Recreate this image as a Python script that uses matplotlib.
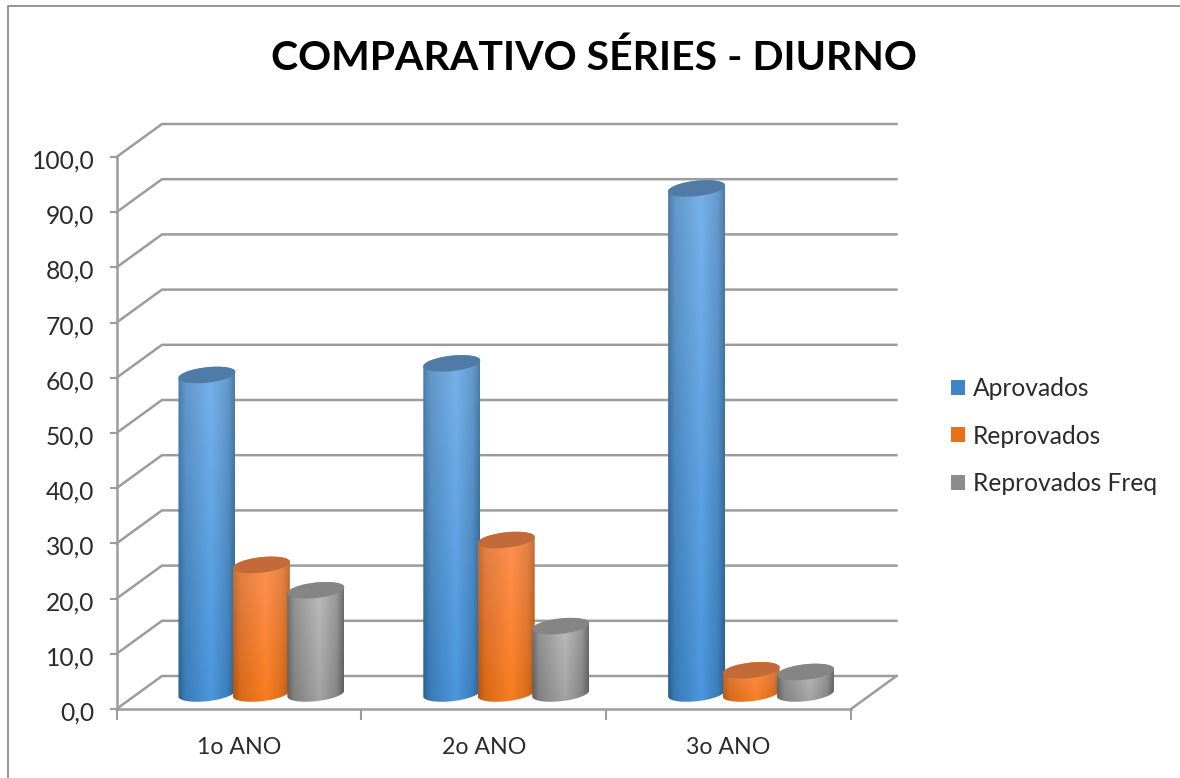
import numpy as np
import matplotlib
matplotlib.use('Agg')
import matplotlib.pyplot as plt
from matplotlib.patches import Patch, PathPatch
from matplotlib.lines import Line2D
from matplotlib.path import Path
from matplotlib.transforms import ScaledTranslation

plt.rcParams['font.family'] = ['Lato', 'DejaVu Sans']

# data
categories = ['1o ANO', '2o ANO', '3o ANO']
aprovados = [57.7, 59.8, 91.5]
reprovados = [23.3, 27.8, 4.2]
reprovados_freq = [18.7, 12.2, 3.9]
series_names = ['Aprovados', 'Reprovados', 'Reprovados Freq']
y_ticks = [0, 10, 20, 30, 40, 50, 60, 70, 80, 90, 100]
y_labels = ['0,0', '10,0', '20,0', '30,0', '40,0', '50,0', '60,0', '70,0', '80,0', '90,0', '100,0']

W, H = 1180, 778
fig = plt.figure(figsize=(W / 100, H / 100), dpi=100)

# outer frame, only left and top are in the picture
fig.add_artist(Line2D([8 / W, 8 / W, 1], [0, 1 - 6 / H, 1 - 6 / H], color='#8c8c8c', lw=1.3))

# axes = front plane of the fake 3d box
ax = fig.add_axes([116.5 / W, 1 - 709 / H, (851 - 116.5) / W, (709 - 157) / H])
ax.set_xlim(0, 3)
ax.set_ylim(0, 100)

grid_c = '#9c9c9c'
dx = 45.5 / 245  # box depth in data units
dy = 33 / 5.52

for v in y_ticks:
    ax.plot([0, dx, 3 + dx], [v, v + dy, v + dy], color=grid_c, lw=1.8, clip_on=False, zorder=1,
            solid_joinstyle='miter')
ax.plot([3, 3 + dx], [0, dy], color=grid_c, lw=1.8, clip_on=False, zorder=1)

for name in ['top', 'right']:
    ax.spines[name].set_visible(False)
for name in ['left', 'bottom']:
    ax.spines[name].set_color(grid_c)
    ax.spines[name].set_linewidth(1.8)

ax.set_yticks(y_ticks)
ax.set_yticklabels(y_labels)
ax.set_xticks([0, 1, 2, 3])
ax.set_xticklabels([])
ax.set_xticks([0.5, 1.5, 2.5], minor=True)
ax.set_xticklabels(categories, minor=True)
ax.tick_params(axis='y', length=5, width=1.5, color=grid_c, labelsize=17.7, labelcolor='#2b2b2b', pad=11)
ax.tick_params(axis='x', which='major', length=8, width=1.5, color=grid_c)
ax.tick_params(axis='x', which='minor', length=0, labelsize=16.7, labelcolor='#2b2b2b', pad=20)

# y labels sit a little under their ticks
down = ScaledTranslation(0, -2 / 100, fig.dpi_scale_trans)
for lab in ax.get_yticklabels():
    lab.set_transform(lab.get_transform() + down)

# shades: edge dark, centre light, at the bottom and at the top of a cylinder
shades = [
    {'edge_b': '#28608f', 'mid_b': '#4a96de', 'edge_t': '#4d7ea8', 'mid_t': '#79b2ea', 'cap': '#4f7ba6', 'key_t': '#62a4e2', 'key_b': '#3f86c8'},
    {'edge_b': '#b4540e', 'mid_b': '#f97c1e', 'edge_t': '#c4703a', 'mid_t': '#ff9255', 'cap': '#c26a38', 'key_t': '#ff8f4e', 'key_b': '#ea6f16'},
    {'edge_b': '#5e5e5e', 'mid_b': '#a2a2a2', 'edge_t': '#6e6e6e', 'mid_t': '#bdbdbd', 'cap': '#858585', 'key_t': '#b4b4b4', 'key_b': '#8c8c8c'},
]


def rgb(c):
    return np.array(matplotlib.colors.to_rgb(c))


def cylinder(cx, val, w, shade, z):
    base = dy * 0.47
    top = base + val
    a = w / 2
    b = 1.4
    s = 0.54
    t1 = np.linspace(np.pi, 2 * np.pi, 60)
    t2 = np.linspace(0, np.pi, 60)
    xs = np.r_[cx + a * np.cos(t1), cx + a * np.cos(t2)]
    ys = np.r_[base + s * np.cos(t1) + b * np.sin(t1), top + s * np.cos(t2) + b * np.sin(t2)]
    clip = Path(np.c_[xs, ys])

    # horizontal profile, light a bit right of the middle
    u = np.linspace(0, 1, 80)
    prof = np.interp(u, [0, 0.12, 0.58, 0.88, 1], [0, 0.5, 1, 0.55, 0])
    v = np.linspace(1, 0, 40)
    img = np.zeros((40, 80, 3))
    for i, vv in enumerate(v):
        edge = rgb(shade['edge_b']) * (1 - vv) + rgb(shade['edge_t']) * vv
        mid = rgb(shade['mid_b']) * (1 - vv) + rgb(shade['mid_t']) * vv
        img[i] = edge[None, :] * (1 - prof[:, None]) + mid[None, :] * prof[:, None]
    im = ax.imshow(img, extent=[cx - a, cx + a, base - 2, top + 2], aspect='auto', zorder=z,
                   interpolation='bilinear')
    im.set_clip_path(PathPatch(clip, transform=ax.transData))

    t = np.linspace(0, 2 * np.pi, 120)
    ax.fill(cx + a * np.cos(t), top + s * np.cos(t) + b * np.sin(t), color=shade['cap'], lw=0, zorder=z + 0.1)


bar_w = 57 / 245
first = 90.5 / 245
step = 54.5 / 245
series = [aprovados, reprovados, reprovados_freq]
for g in range(len(categories)):
    for k, vals in enumerate(series):
        cylinder(g + first + k * step, vals[g], bar_w, shades[k], 3 + g + k * 0.3)

ax.set_xlim(0, 3)
ax.set_ylim(0, 100)

handles = [Patch(facecolor=shades[k]['key_b'], edgecolor='none', label=series_names[k]) for k in range(3)]
leg = fig.legend(handles=handles, loc='center left', bbox_to_anchor=(929 / W, 1 - 436 / H), frameon=False,
                 fontsize=17.7, labelcolor='#2b2b2b', handlelength=0.57, handleheight=0.57, handletextpad=0.3,
                 labelspacing=1.0)

# legend keys have a soft vertical gradient, laid over the patches
fig.canvas.draw()
for k, p in enumerate(leg.get_patches()):
    box = p.get_window_extent()
    n = int(round(box.height))
    m = int(round(box.width))
    grad = np.linspace(0, 1, n)[:, None, None]
    key_img = (rgb(shades[k]['key_t']) * (1 - grad) + rgb(shades[k]['key_b']) * grad) * np.ones((n, m, 3))
    fig.figimage(key_img, xo=int(round(box.x0)), yo=int(round(box.y0)), origin='upper', zorder=5)

fig.text(593.5 / W, 1 - 58 / H, 'COMPARATIVO SÉRIES - DIURNO', ha='center', va='center',
         fontsize=29.5, fontweight='bold', color='black')

fig.savefig('out.png', dpi=100)
